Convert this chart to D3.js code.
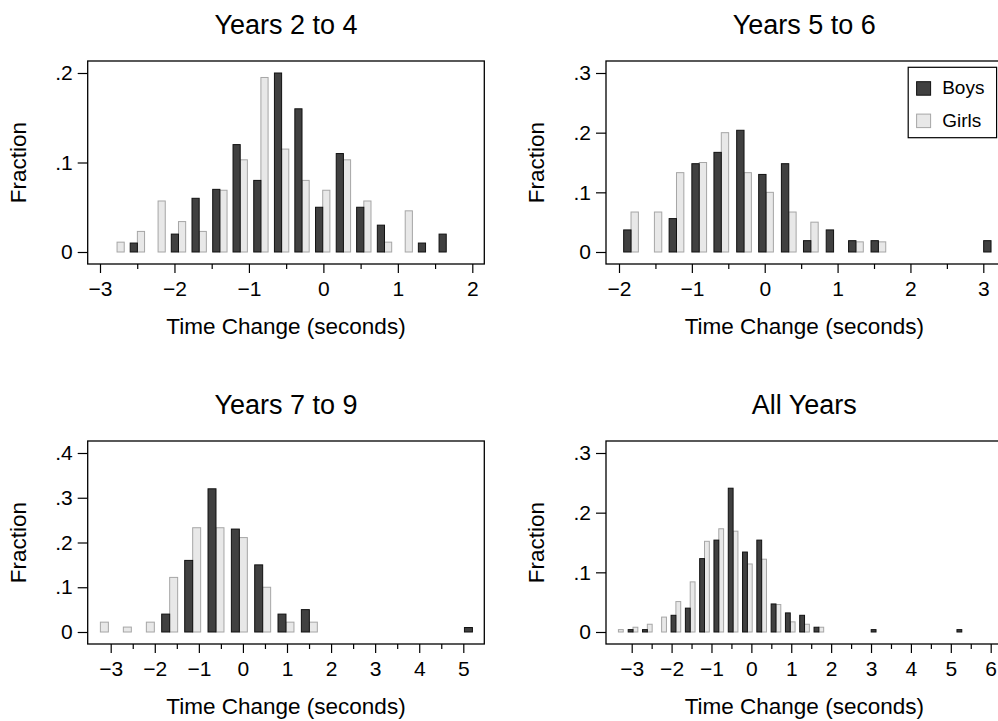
<!DOCTYPE html>
<html>
<head>
<meta charset="utf-8">
<script src="https://cdn.jsdelivr.net/npm/d3@7"></script>
<style>
  html, body { margin: 0; padding: 0; background: #fff; overflow: hidden; }
  svg { display: block; font-family: "Liberation Sans", Arial, Helvetica, sans-serif; }
</style>
</head>
<body>
<svg id="chart" width="998" height="721"></svg>
<script>
// ---- data: fraction of pupils per time-change bin (bin = point where the two bars meet, seconds)
const panelTitles = ["Years 2 to 4", "Years 5 to 6", "Years 7 to 9", "All Years"];
const seriesNames = ["Boys", "Girls"];

const boys24X  = [-2.498, -1.946, -1.668, -1.390, -1.117, -0.839, -0.561, -0.287, -0.009, 0.269, 0.543, 0.821, 1.372, 1.650];
const boys24Y  = [0.010, 0.020, 0.060, 0.070, 0.120, 0.080, 0.200, 0.160, 0.050, 0.110, 0.050, 0.030, 0.010, 0.020];
const girls24X = [-2.771, -2.498, -2.220, -1.946, -1.668, -1.390, -1.117, -0.839, -0.561, -0.287, -0.009, 0.269, 0.543, 0.821, 1.099];
const girls24Y = [0.011, 0.023, 0.057, 0.034, 0.023, 0.069, 0.103, 0.195, 0.115, 0.080, 0.069, 0.103, 0.057, 0.011, 0.046];

const boys56X  = [-1.835, -1.211, -0.899, -0.596, -0.284, 0.018, 0.330, 0.633, 0.945, 1.252, 1.560, 3.106];
const boys56Y  = [0.037, 0.056, 0.148, 0.167, 0.204, 0.130, 0.148, 0.019, 0.037, 0.019, 0.019, 0.019];
const girls56X = [-1.835, -1.514, -1.211, -0.899, -0.596, -0.284, 0.018, 0.330, 0.633, 1.252, 1.560];
const girls56Y = [0.067, 0.067, 0.133, 0.150, 0.200, 0.133, 0.100, 0.067, 0.050, 0.017, 0.017];

const boys79X  = [-1.662, -1.140, -0.611, -0.081, 0.448, 0.977, 1.507, 5.207];
const boys79Y  = [0.040, 0.160, 0.320, 0.230, 0.150, 0.040, 0.050, 0.010];
const girls79X = [-3.234, -2.713, -2.191, -1.662, -1.140, -0.611, -0.081, 0.448, 0.977, 1.507];
const girls79Y = [0.022, 0.011, 0.022, 0.122, 0.233, 0.233, 0.211, 0.100, 0.022, 0.022];

const boysAllX  = [-2.967, -2.608, -1.892, -1.533, -1.175, -0.817, -0.458, -0.100, 0.258, 0.617, 0.975, 1.333, 1.692, 3.125, 5.275];
const boysAllY  = [0.004, 0.004, 0.028, 0.040, 0.123, 0.154, 0.241, 0.134, 0.154, 0.047, 0.032, 0.028, 0.008, 0.004, 0.004];
const girlsAllX = [-3.333, -2.967, -2.608, -2.250, -1.892, -1.533, -1.175, -0.817, -0.458, -0.100, 0.258, 0.617, 0.975, 1.333, 1.692];
const girlsAllY = [0.004, 0.008, 0.013, 0.025, 0.051, 0.084, 0.152, 0.173, 0.169, 0.114, 0.122, 0.046, 0.017, 0.013, 0.008];

const xTicks24 = [-3, -2, -1, 0, 1, 2];
const xTicks56 = [-2, -1, 0, 1, 2, 3];
const xTicks79 = [-3, -2, -1, 0, 1, 2, 3, 4, 5];
const xTicksAll = [-3, -2, -1, 0, 1, 2, 3, 4, 5, 6];
const yTicks24 = [0, 0.1, 0.2];
const yTicks56 = [0, 0.1, 0.2, 0.3];
const yTicks79 = [0, 0.1, 0.2, 0.3, 0.4];
const yTicksAll = [0, 0.1, 0.2, 0.3];

const xLabel = "Time Change (seconds)";
const yLabel = "Fraction";

// ---- layout of the four panels (frame box, axis anchors, bar width in seconds)
const panels = [
  { title: panelTitles[0], left: 87.7, top: 61, right: 484.3, bottom: 264,
    xd: [-3, 2], xr: [100, 472.3], ymax: 0.2, barW: 0.0964,
    boys: [boys24X, boys24Y], girls: [girls24X, girls24Y], xt: xTicks24, yt: yTicks24, legend: false },
  { title: panelTitles[1], left: 606, top: 61, right: 1002.6, bottom: 264,
    xd: [-2, 3], xr: [619, 983.3], ymax: 0.3, barW: 0.101,
    boys: [boys56X, boys56Y], girls: [girls56X, girls56Y], xt: xTicks56, yt: yTicks56, legend: true },
  { title: panelTitles[2], left: 87.7, top: 441, right: 484.3, bottom: 644,
    xd: [-3, 5], xr: [110.7, 463.3], ymax: 0.4, barW: 0.181,
    boys: [boys79X, boys79Y], girls: [girls79X, girls79Y], xt: xTicks79, yt: yTicks79, legend: false },
  { title: panelTitles[3], left: 606, top: 441, right: 1002.6, bottom: 644,
    xd: [-3, 6], xr: [631.7, 990.7], ymax: 0.3, barW: 0.121,
    boys: [boysAllX, boysAllY], girls: [girlsAllX, girlsAllY], xt: xTicksAll, yt: yTicksAll, legend: false }
];

const boysFill = "#404040", boysStroke = "#111111";
const girlsFill = "#e8e8e8", girlsStroke = "#a6a6a6";
const minus = s => String(s).replace("-", "\u2212");
const yFmt = v => v === 0 ? "0" : d3.format(".1f")(v).replace(/^0/, "");
const fontFam = "'Liberation Sans', Arial, sans-serif";

const svg = d3.select("#chart");

panels.forEach(p => {
  const g = svg.append("g");
  const x = d3.scaleLinear().domain(p.xd).range(p.xr);
  const y = d3.scaleLinear().domain([0, p.ymax]).range([p.bottom - 12, p.top + 12]);

  // bars: boys to the left of each bin point, girls to the right
  const boysData = p.boys[0].map((b, i) => ({ b, v: p.boys[1][i] }));
  const girlsData = p.girls[0].map((b, i) => ({ b, v: p.girls[1][i] }));

  g.append("g").selectAll("rect").data(girlsData).join("rect")
    .attr("x", d => x(d.b))
    .attr("width", d => x(d.b + p.barW) - x(d.b))
    .attr("y", d => y(d.v))
    .attr("height", d => y(0) - y(d.v))
    .attr("fill", girlsFill).attr("stroke", girlsStroke).attr("stroke-width", 1);

  g.append("g").selectAll("rect").data(boysData).join("rect")
    .attr("x", d => x(d.b - p.barW))
    .attr("width", d => x(d.b) - x(d.b - p.barW))
    .attr("y", d => y(d.v))
    .attr("height", d => y(0) - y(d.v))
    .attr("fill", boysFill).attr("stroke", boysStroke).attr("stroke-width", 1);

  // frame
  g.append("rect")
    .attr("x", p.left).attr("y", p.top)
    .attr("width", p.right - p.left).attr("height", p.bottom - p.top)
    .attr("fill", "none").attr("stroke", "#000").attr("stroke-width", 1.3);

  // x axis: major ticks with labels, minor ticks at half seconds
  const halves = d3.range(p.xt[0], p.xt[p.xt.length - 1], 1).map(v => v + 0.5);
  const minorAxis = g.append("g").attr("transform", `translate(0,${p.bottom})`)
    .call(d3.axisBottom(x).tickValues(halves).tickSize(5).tickFormat(""));
  const majorAxis = g.append("g").attr("transform", `translate(0,${p.bottom})`)
    .call(d3.axisBottom(x).tickValues(p.xt).tickSize(9).tickPadding(8).tickFormat(minus));
  [minorAxis, majorAxis].forEach(a => {
    a.select(".domain").remove();
    a.selectAll("line").attr("stroke", "#000").attr("stroke-width", 1.2);
  });
  majorAxis.selectAll("text").attr("font-size", 21).attr("fill", "#000").attr("font-family", fontFam);

  // y axis
  const yAxis = g.append("g").attr("transform", `translate(${p.left},0)`)
    .call(d3.axisLeft(y).tickValues(p.yt).tickSize(10).tickPadding(5).tickFormat(yFmt));
  yAxis.select(".domain").remove();
  yAxis.selectAll("line").attr("stroke", "#000").attr("stroke-width", 1.2);
  yAxis.selectAll("text").attr("font-size", 21).attr("fill", "#000").attr("font-family", fontFam);

  // titles
  const cx = (p.left + p.right) / 2;
  g.append("text").attr("x", cx).attr("y", p.top - 27)
    .attr("text-anchor", "middle").attr("font-size", 27).attr("fill", "#000").text(p.title);
  g.append("text").attr("x", cx).attr("y", p.bottom + 70)
    .attr("text-anchor", "middle").attr("font-size", 22.5).attr("fill", "#000").text(xLabel);
  const ly = (p.top + p.bottom) / 2;
  g.append("text").attr("transform", `translate(${p.left - 62},${ly}) rotate(-90)`)
    .attr("text-anchor", "middle").attr("font-size", 22.5).attr("fill", "#000").text(yLabel);

  // legend
  if (p.legend) {
    const lw = 88.4, lh = 70.4;
    const lx = p.right - 6 - lw, lyTop = p.top + 6.3;
    const lg = g.append("g").attr("transform", `translate(${lx},${lyTop})`);
    lg.append("rect").attr("width", lw).attr("height", lh)
      .attr("fill", "#fff").attr("stroke", "#000").attr("stroke-width", 1.2);
    const items = [
      { name: seriesNames[0], fill: boysFill, stroke: boysStroke },
      { name: seriesNames[1], fill: girlsFill, stroke: girlsStroke }
    ];
    items.forEach((it, i) => {
      const row = lg.append("g").attr("transform", `translate(0,${14.4 + i * 32.4})`);
      row.append("rect").attr("x", 8.4).attr("y", 0).attr("width", 14).attr("height", 13.5)
        .attr("fill", it.fill).attr("stroke", it.stroke).attr("stroke-width", 1);
      row.append("text").attr("x", 34).attr("y", 12.5).attr("font-size", 19).attr("fill", "#000").text(it.name);
    });
  }
});
</script>
</body>
</html>
